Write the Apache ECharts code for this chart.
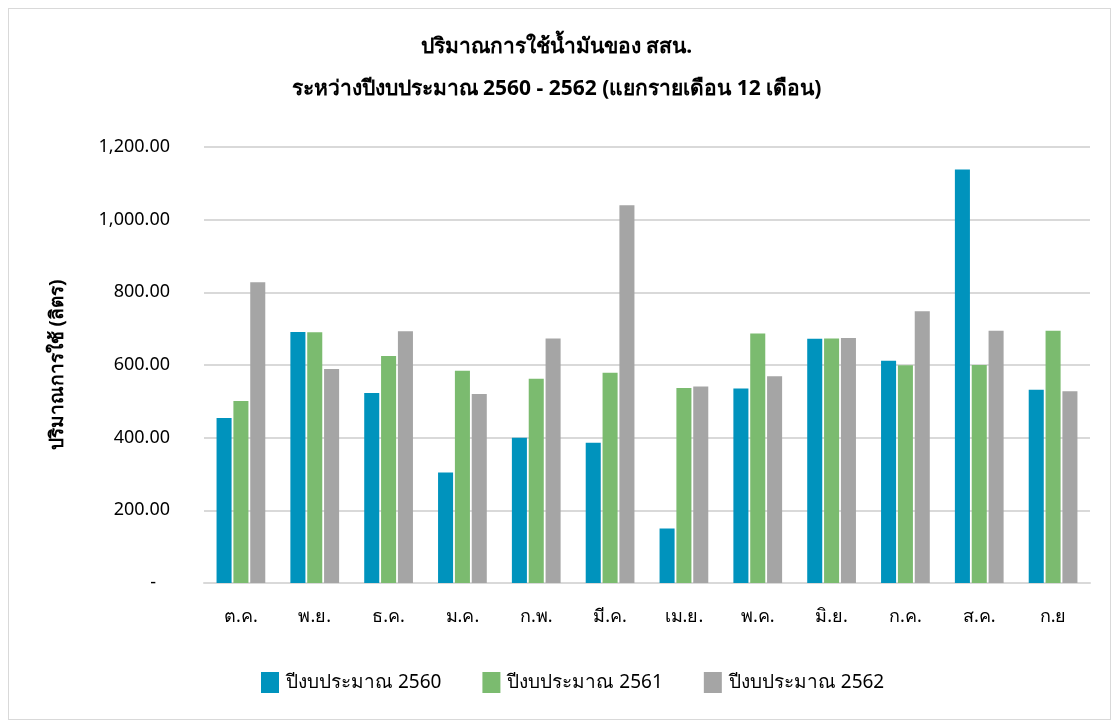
<!DOCTYPE html>
<html>
<head>
<meta charset="utf-8">
<script src="https://cdn.jsdelivr.net/npm/echarts@6/dist/echarts.min.js"></script>
<style>
  html, body { margin: 0; padding: 0; background: #fff; }
  #frame { position: absolute; left: 8px; top: 8px; width: 1103px; height: 712px; border: 1px solid #d9d9d9; box-sizing: border-box; }
  #main { position: absolute; left: 0; top: 0; width: 1113px; height: 720px; }
</style>
</head>
<body>
<div id="frame"></div>
<div id="main"></div>
<script>
var months = ['ต.ค.', 'พ.ย.', 'ธ.ค.', 'ม.ค.', 'ก.พ.', 'มี.ค.', 'เม.ย.', 'พ.ค.', 'มิ.ย.', 'ก.ค.', 'ส.ค.', 'ก.ย']
var seriesNames = ['ปีงบประมาณ 2560', 'ปีงบประมาณ 2561', 'ปีงบประมาณ 2562']
var fy2560 = [454, 691, 523, 304, 400, 386, 150, 535, 672, 612, 1138, 532]
var fy2561 = [501, 690, 625, 584, 562, 579, 537, 687, 673, 599, 600, 694]
var fy2562 = [828, 589, 693, 520, 673, 1040, 541, 569, 674, 748, 694, 528]
var colors = ['#0093BD', '#7BBB6F', '#A5A5A5']

var font = '"Noto Sans", "DejaVu Sans", sans-serif'
var chart = echarts.init(document.getElementById('main'))

function barSeries(name, data, color) {
  return {
    name: name,
    type: 'bar',
    data: data,
    barGap: '12%',
    barCategoryGap: '34%',
    itemStyle: { color: color },
    animation: false
  }
}

chart.setOption({
  textStyle: { fontFamily: font },
  title: {
    text: 'ปริมาณการใช้น้ำมันของ สสน.\nระหว่างปีงบประมาณ 2560 - 2562 (แยกรายเดือน 12 เดือน)',
    left: 'center',
    top: 21,
    textStyle: { fontSize: 21, fontWeight: 'bold', color: '#000', lineHeight: 42, fontFamily: font }
  },
  legend: {
    bottom: 22,
    left: 256,
    itemWidth: 18,
    itemHeight: 21,
    itemGap: 41,
    icon: 'rect',
    textStyle: { fontSize: 19, color: '#000', fontFamily: font, padding: [0, 0, 0, 2] },
    data: seriesNames
  },
  grid: { left: 204, right: 23, top: 147, bottom: 137 },
  xAxis: {
    type: 'category',
    data: months,
    axisLine: { lineStyle: { color: '#d9d9d9', width: 2 } },
    axisTick: { show: false },
    axisLabel: { fontSize: 18, color: '#000', margin: 25, fontFamily: font }
  },
  yAxis: {
    type: 'value',
    min: 0,
    max: 1200,
    interval: 200,
    name: 'ปริมาณการใช้ (ลิตร)',
    nameLocation: 'middle',
    nameRotate: 90,
    nameGap: 137,
    nameTextStyle: { fontSize: 19, fontWeight: 'bold', color: '#000', fontFamily: font },
    axisLine: { show: false },
    axisTick: { show: false },
    splitLine: { lineStyle: { color: '#d9d9d9', width: 2 } },
    axisLabel: {
      fontSize: 18,
      color: '#000',
      margin: 34,
      fontFamily: font,
      formatter: function (v) {
        if (v === 0) return '-   '
        return v.toLocaleString('en-US', { minimumFractionDigits: 2, maximumFractionDigits: 2 })
      }
    }
  },
  series: [
    barSeries(seriesNames[0], fy2560, colors[0]),
    barSeries(seriesNames[1], fy2561, colors[1]),
    barSeries(seriesNames[2], fy2562, colors[2])
  ]
})
</script>
</body>
</html>
